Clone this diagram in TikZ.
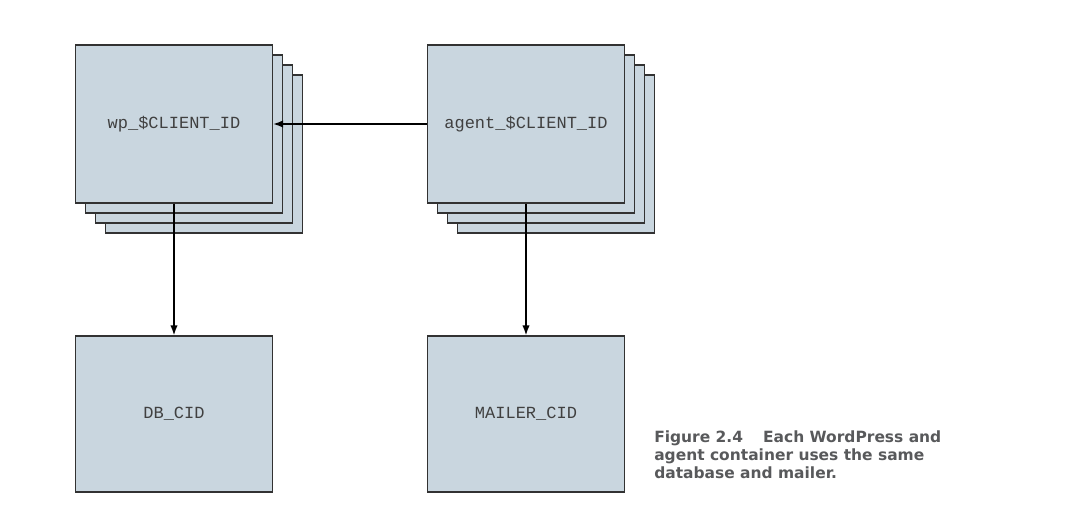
\documentclass[tikz,border=0pt]{standalone}
\usepackage{fontspec}
\setmonofont{Liberation Mono}
\newfontfamily\captionfont{DejaVu Sans}
\usetikzlibrary{arrows.meta}
\definecolor{boxfill}{RGB}{201,214,223}
\definecolor{boxline}{RGB}{50,50,50}
\definecolor{captiongray}{RGB}{88,89,91}
\tikzset{
  container/.style={draw=boxline, fill=boxfill, line width=0.9pt, minimum width=147.75pt, minimum height=118.5pt, inner sep=0pt, font=\ttfamily\fontsize{12.75}{14}\selectfont, text=black!75},
  shared/.style={container, minimum height=117pt},
  link/.style={->, line width=1.1pt}
}
\begin{document}
\begin{tikzpicture}[x=0.75pt, y=-0.75pt, >={Latex[length=7.5pt,width=5.5pt]}]
	\useasboundingbox (0,0) rectangle (1079,523);
	% copies stacked behind the front containers
	\foreach \k in {3,2,1}{
		\node[container] (wpcopy\k) at (174+10*\k,124+10*\k) {};
		\node[container] (agentcopy\k) at (526+10*\k,124+10*\k) {};
	}
	\node[container] (wp) at (174,124) {wp\_\$CLIENT\_ID};
	\node[container] (agent) at (526,124) {agent\_\$CLIENT\_ID};
	\node[shared] (db) at (174,414) {DB\_CID};
	\node[shared] (mailer) at (526,414) {MAILER\_CID};
	\draw[link] (agent.west) -- (wp.east);
	\draw[link] (wp.south) -- (db.north);
	\draw[link] (agent.south) -- (mailer.north);
	\node[anchor=north west, inner sep=0pt, align=left, text=captiongray, font=\captionfont\bfseries\fontsize{11.6}{13.2}\selectfont] (caption) at (654,430)
		{Figure 2.4\hspace{15pt}Each WordPress and\\[0.6pt]agent container uses the same\\[0.6pt]database and mailer.};
\end{tikzpicture}
\end{document}
